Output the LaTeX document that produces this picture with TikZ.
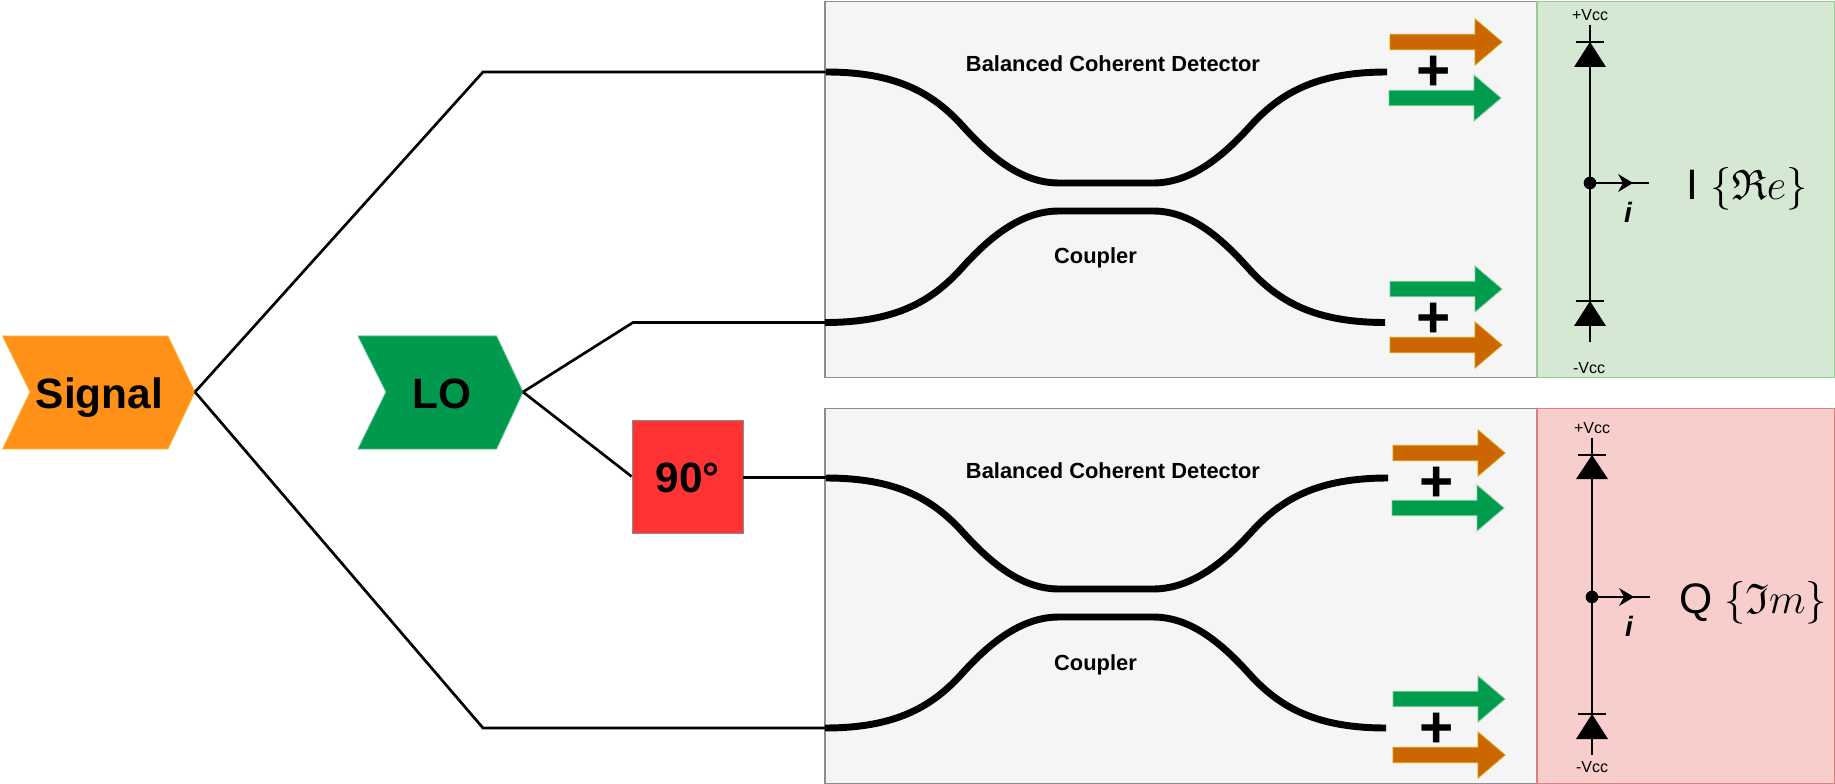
\documentclass[tikz,border=0pt]{standalone}
\usepackage{fix-cm}
\usepackage{fontspec}
\setmainfont{Liberation Sans}
\DeclareFontFamily{U}{myeuf}{}
\DeclareFontShape{U}{myeuf}{m}{n}{<->eufm10}{}
\newcommand{\frakglyph}[1]{{\usefont{U}{myeuf}{m}{n}#1}}
\definecolor{sigfill}{HTML}{FF9018}
\definecolor{sigline}{HTML}{F0C040}
\definecolor{lofill}{HTML}{00994D}
\definecolor{loline}{HTML}{50C080}
\definecolor{phfill}{HTML}{FF3333}
\definecolor{boxfill}{HTML}{F5F5F5}
\definecolor{boxline}{HTML}{8C8C8C}
\definecolor{grfill}{HTML}{D5E8D4}
\definecolor{grline}{HTML}{9CC79A}
\definecolor{rdfill}{HTML}{F8CECC}
\definecolor{rdline}{HTML}{D98080}
\definecolor{arrorange}{HTML}{CC6600}
\definecolor{arrorangeline}{HTML}{D79B00}
\definecolor{arrgreen}{HTML}{009C4E}
\definecolor{arrgreenline}{HTML}{82C99A}
\tikzset{
  wire/.style={draw=black,line width=2pt,line join=miter},
  fibre/.style={draw=black,line width=5.2pt},
  panel/.style={draw=boxline,fill=boxfill,line width=1pt},
  bigtext/.style={font=\fontsize{31.8}{36}\selectfont\bfseries,inner sep=0pt,text=black},
  captext/.style={font=\fontsize{16.4}{20}\selectfont\bfseries,inner sep=0pt},
  vcctext/.style={font=\fontsize{12}{14}\selectfont,inner sep=0pt},
  plustext/.style={font=\fontsize{44}{48}\selectfont\bfseries,inner sep=0pt},
  curtext/.style={font=\fontsize{21}{24}\selectfont\bfseries\itshape,inner sep=0pt},
  resulttext/.style={font=\fontsize{32}{36}\selectfont,inner sep=0pt,anchor=base},
  orangearrow/.style={fill=arrorange,draw=arrorangeline,line width=0.6pt},
  greenarrow/.style={fill=arrgreen,draw=arrgreenline,line width=0.6pt},
  rail/.style={draw=black,line width=2pt},
}
% fat arrow: x start, x head, x tip, y centre, style
\newcommand{\fatarr}[5]{\path[#5] (#1,#4-7.7) -- (#2,#4-7.7) -- (#2,#4-23) -- (#3,#4) -- (#2,#4+23) -- (#2,#4+7.7) -- (#1,#4+7.7) -- cycle;}
% coupler: left x, right x, flat left, flat right, outer y, flat y
\newcommand{\coupl}[6]{\draw[fibre] (#1,#5) .. controls (#1+69,#5) and (#1+106,{#5+(#6-#5)*0.18}) .. (#1+137,{#5+(#6-#5)*0.49}) .. controls (#1+168,{#5+(#6-#5)*0.80}) and (#3-35,#6) .. (#3,#6) -- (#4,#6) .. controls (#4+35,#6) and (#2-168,{#5+(#6-#5)*0.80}) .. (#2-137,{#5+(#6-#5)*0.49}) .. controls (#2-106,{#5+(#6-#5)*0.18}) and (#2-69,#5) .. (#2,#5);}
% diode: x rail, y bar, y base
\newcommand{\diode}[3]{\path[fill=black] (#1,#2) -- (#1+16,#3) -- (#1-16,#3) -- cycle;
  \draw[line width=1.6pt] (#1-14,#2) -- (#1+14,#2);}
\begin{document}
\begin{tikzpicture}[x=0.75pt,y=-0.75pt]
\useasboundingbox (0,0) rectangle (1835,784);
\fill[white] (0,0) rectangle (1835,784);

% panels
\path[panel] (825,1.5) rectangle (1537,377.5);
\path[panel] (825,408.5) rectangle (1537,783.5);
\path[draw=grline,fill=grfill,line width=1pt] (1537,1.5) rectangle (1834.5,377.5);
\path[draw=rdline,fill=rdfill,line width=1pt] (1537,408.5) rectangle (1834.5,783.5);

% source shapes
\path[fill=sigfill,draw=sigline,line width=0.6pt] (2.5,336) -- (168,336) -- (195,392) -- (168,449) -- (2.5,449) -- (30,392) -- cycle;
\node[bigtext] (signal) at (99.5,398) {Signal};
\path[fill=lofill,draw=loline,line width=0.6pt] (358,336) -- (496.5,336) -- (523,392) -- (496.5,449) -- (358,449) -- (386,392) -- cycle;
\node[bigtext] (lo) at (442,394) {LO};
\node[draw=boxline,fill=phfill,line width=0.6pt,minimum width=83.25pt,minimum height=84.75pt,inner sep=0pt] (ph) at (687.5,476.5) {};
\node[bigtext] (phtext) at (687.5,478) {90°};

% routing points
\coordinate (sigtip) at (195,392);
\coordinate (lotip) at (523,392);
\coordinate (sigup) at (483,72);
\coordinate (sigdn) at (483,728);
\coordinate (loup) at (633,322.5);
\coordinate (inA) at (826,72);
\coordinate (inB) at (826,322.5);
\coordinate (inC) at (826,477.5);
\coordinate (inD) at (826,728);
\draw[wire] (sigtip) -- (sigup) -- (inA);
\draw[wire] (sigtip) -- (sigdn) -- (inD);
\draw[wire] (lotip) -- (loup) -- (inB);
\draw[wire] (lotip) -- (ph.west);
\draw[wire] (ph.east |- inC) -- (inC);

% couplers
\coupl{826}{1387}{1059}{1153}{72}{183}
\coupl{825}{1385}{1059}{1153}{322.5}{211}
\coupl{826}{1388}{1059}{1153}{478}{589}
\coupl{825}{1386}{1059}{1153}{728}{617}

\node[captext] (t1) at (1113,64) {Balanced Coherent Detector};
\node[captext] (t2) at (1095.5,258) {Coupler};
\node[captext] (t3) at (1113,471) {Balanced Coherent Detector};
\node[captext] (t4) at (1095.5,665) {Coupler};

% arrows top
\fatarr{1390}{1475}{1502}{42}{orangearrow}
\fatarr{1389}{1474}{1501}{98}{greenarrow}
\fatarr{1390}{1475}{1502}{289}{greenarrow}
\fatarr{1390}{1475}{1502}{345}{orangearrow}
\node[plustext] (p1) at (1434,73) {+};
\node[plustext] (p2) at (1434,320) {+};
% arrows bottom
\fatarr{1393}{1478}{1505}{453}{orangearrow}
\fatarr{1392}{1477}{1504}{508}{greenarrow}
\fatarr{1393}{1478}{1505}{699}{greenarrow}
\fatarr{1393}{1478}{1505}{755}{orangearrow}
\node[plustext] (p3) at (1437,484) {+};
\node[plustext] (p4) at (1437,730) {+};

% top detector
\coordinate (rA1) at (1590,25);
\coordinate (rA2) at (1590,342);
\draw[rail] (rA1) -- (rA2);
\diode{1590}{42}{67}
\diode{1590}{301}{326}
\node[circle,fill=black,minimum size=9.5pt,inner sep=0pt] (dA) at (1590,183) {};
\coordinate (oA) at (1649,183);
\draw[rail,line width=1.8pt] (dA.center) -- (oA);
\path[fill=black] (1633,183) -- (1618,174) -- (1623,183) -- (1618,192) -- cycle;
\node[vcctext] (va1) at (1590,15) {+Vcc};
\node[vcctext] (va2) at (1589,368) {-Vcc};
\node[curtext] (ia) at (1628,212.5) {i};
\node[resulttext] (resA) at (1747,200) {I $\{$\frakglyph{R}$e\}$};

% bottom detector
\coordinate (rB1) at (1592,438);
\coordinate (rB2) at (1592,755);
\draw[rail] (rB1) -- (rB2);
\diode{1592}{455}{479}
\diode{1592}{714}{739}
\node[circle,fill=black,minimum size=9.5pt,inner sep=0pt] (dB) at (1592,597) {};
\coordinate (oB) at (1650,597);
\draw[rail,line width=1.8pt] (dB.center) -- (oB);
\path[fill=black] (1634,597) -- (1619,588) -- (1624,597) -- (1619,606) -- cycle;
\node[vcctext] (vb1) at (1592,428) {+Vcc};
\node[vcctext] (vb2) at (1592,767) {-Vcc};
\node[curtext] (ib) at (1629,626) {i};
\node[resulttext] (resB) at (1753,613) {Q $\{$\frakglyph{I}$m\}$};
\end{tikzpicture}
\end{document}
